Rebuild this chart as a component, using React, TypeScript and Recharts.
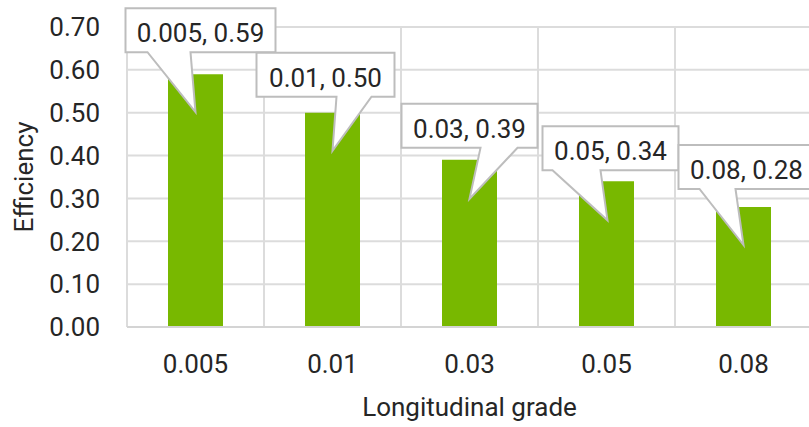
import { BarChart, Bar, XAxis, YAxis, CartesianGrid, LabelList, Label } from 'recharts';

const grades = ['0.005', '0.01', '0.03', '0.05', '0.08'];
const efficiency = [0.59, 0.5, 0.39, 0.34, 0.28];
const yTicks = [0, 0.1, 0.2, 0.3, 0.4, 0.5, 0.6, 0.7];

const data = grades.map((grade, i) => ({ grade, efficiency: efficiency[i] }));

// Callout boxes, placed relative to the bar's centre and top (px).
// left/right/top = box edges, baseL/baseR = where the pointer leaves the box, tip = pointer end.
const callouts = [
  { left: -70, right: 80, top: -66, baseL: -48, baseR: -5, tipX: 0, tipY: 38 },
  { left: -76, right: 62, top: -60, baseL: 4, baseR: 39, tipX: 0, tipY: 38 },
  { left: -68, right: 68, top: -56, baseL: 11, baseR: 48, tipX: 0, tipY: 39 },
  { left: -64, right: 72, top: -55, baseL: -54, baseR: -6, tipX: 1, tipY: 39 },
  { left: -65, right: 71, top: -62, baseL: -44, baseR: -8, tipX: 0, tipY: 38 },
];
const BOX_H = 44;

const FONT = "Roboto, 'Liberation Sans', Arial, sans-serif";
const TEXT = '#262626';
const GRID = '#dcdcdc';
const GREEN = '#78b800';

const renderCallout = (props: any) => {
  const { x, y, width, value } = props;
  let index = props.index;
  if (index == null) index = efficiency.indexOf(Number(value));
  const c = callouts[index];
  if (!c) return null;
  const cx = Number(x) + Number(width) / 2;
  const top = Number(y);
  const L = cx + c.left;
  const R = cx + c.right;
  const T = top + c.top;
  const B = T + BOX_H;
  const d = `M${L},${T} H${R} V${B} H${cx + c.baseR} L${cx + c.tipX},${top + c.tipY} L${cx + c.baseL},${B} H${L} Z`;
  return (
    <g>
      <path d={d} fill="#fff" stroke="#bdbdbd" strokeWidth={2} strokeLinejoin="miter" />
      <text
        x={(L + R) / 2}
        y={T + 34}
        textAnchor="middle"
        fontFamily={FONT}
        fontSize={26}
        fill={TEXT}
      >
        {`${grades[index]}, ${Number(value).toFixed(2)}`}
      </text>
    </g>
  );
};

const renderYTitle = (props: any) => {
  const vb = props.viewBox || { x: 0, y: 27, width: 127, height: 300 };
  const x = vb.x + 24;
  const y = vb.y + vb.height / 2;
  return (
    <text
      x={x}
      y={y}
      transform={`rotate(-90 ${x} ${y})`}
      textAnchor="middle"
      dominantBaseline="central"
      fontFamily={FONT}
      fontSize={26}
      fill={TEXT}
    >
      Efficiency
    </text>
  );
};

export default function App() {
  return (
    <div
      style={{
        position: 'absolute',
        left: 0,
        top: 0,
        width: 809,
        height: 427,
        overflow: 'hidden',
        background: '#fff',
      }}
    >
      <BarChart
        width={830}
        height={427}
        data={data}
        margin={{ top: 27, right: 18, left: 0, bottom: 0 }}
      >
        <CartesianGrid
          stroke={GRID}
          strokeWidth={2}
          verticalCoordinatesGenerator={({ offset }: any) =>
            grades.map((_, i) => offset.left + (i * offset.width) / grades.length).concat(offset.left + offset.width)
          }
        />
        <XAxis
          dataKey="grade"
          height={100}
          tickSize={0}
          tickMargin={28}
          axisLine={{ stroke: '#d4d4d4', strokeWidth: 2 }}
          tick={{ fontFamily: FONT, fontSize: 26, fill: TEXT }}
          label={{
            value: 'Longitudinal grade',
            position: 'insideBottom',
            offset: 11,
            style: { fontFamily: FONT, fontSize: 26, fill: TEXT },
          }}
        />
        <YAxis
          width={127}
          domain={[0, 0.7]}
          ticks={yTicks}
          interval={0}
          tickSize={0}
          tickMargin={27}
          axisLine={false}
          tickFormatter={(v: number) => v.toFixed(2)}
          tick={{ fontFamily: FONT, fontSize: 26, fill: TEXT }}
        >
          <Label content={renderYTitle} />
        </YAxis>
        <Bar dataKey="efficiency" fill={GREEN} barSize={55} isAnimationActive={false}>
          <LabelList dataKey="efficiency" content={renderCallout} />
        </Bar>
      </BarChart>
    </div>
  );
}
